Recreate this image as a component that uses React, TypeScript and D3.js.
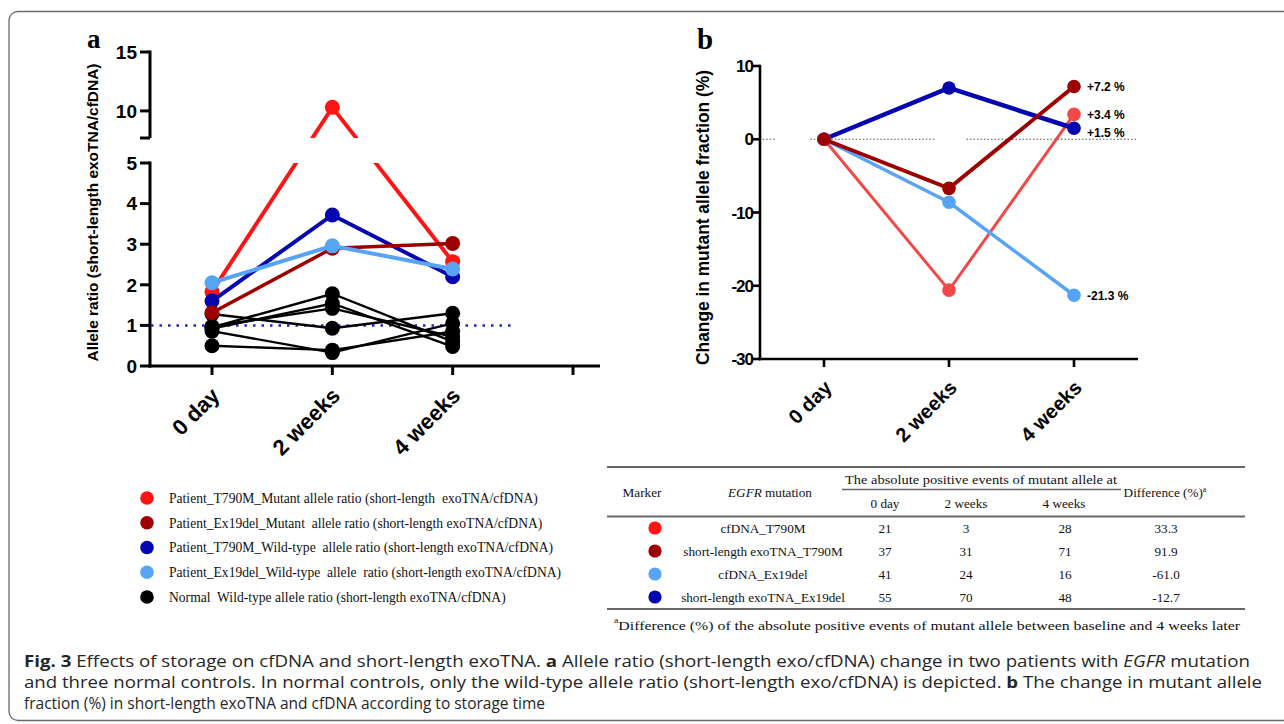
import React from "react";
import * as d3 from "d3";

// ---------- data ----------
const X_CATS = ["0 day", "2 weeks", "4 weeks"];

// Panel a: allele ratio (short-length exoTNA / cfDNA)
const A_LOW_TICKS = [0, 1, 2, 3, 4, 5];
const A_HIGH_TICKS = [10, 15];
const A_T790M_MUT = [1.83, 10.3, 2.57];
const A_EX19_MUT = [1.31, 2.9, 3.02];
const A_T790M_WT = [1.6, 3.72, 2.2];
const A_EX19_WT = [2.05, 2.96, 2.39];
const A_NORMAL_1 = [1.28, 0.93, 1.3];
const A_NORMAL_2 = [0.95, 1.78, 0.6];
const A_NORMAL_3 = [0.92, 1.54, 0.48];
const A_NORMAL_4 = [0.98, 1.42, 0.72];
const A_NORMAL_5 = [0.86, 0.33, 1.05];
const A_NORMAL_6 = [0.5, 0.39, 0.85];

// Panel b: change in mutant allele fraction (%)
const B_TICKS = [10, 0, -10, -20, -30];
const B_CFDNA_T790M = [0, -20.6, 3.4];
const B_EXO_T790M = [0, -6.7, 7.2];
const B_CFDNA_EX19 = [0, -8.6, -21.3];
const B_EXO_EX19 = [0, 7.0, 1.5];
const B_END_LABELS = ["+3.4 %", "+7.2 %", "-21.3 %", "+1.5 %"];

// Legend
const LEGEND_LABELS = [
  "Patient_T790M_Mutant allele ratio (short-length  exoTNA/cfDNA)",
  "Patient_Ex19del_Mutant  allele ratio (short-length exoTNA/cfDNA)",
  "Patient_T790M_Wild-type  allele ratio (short-length exoTNA/cfDNA)",
  "Patient_Ex19del_Wild-type  allele  ratio (short-length exoTNA/cfDNA)",
  "Normal  Wild-type allele ratio (short-length exoTNA/cfDNA)",
];

// Table
const TABLE_LABELS = ["cfDNA_T790M", "short-length exoTNA_T790M", "cfDNA_Ex19del", "short-length exoTNA_Ex19del"];
const TABLE_DAY0 = [21, 37, 41, 55];
const TABLE_WK2 = [3, 31, 24, 70];
const TABLE_WK4 = [28, 71, 16, 48];
const TABLE_DIFF = ["33.3", "91.9", "-61.0", "-12.7"];

// ---------- styles ----------
const RED = "#ff1414";
const DARKRED = "#9c0000";
const BLUE = "#0606b0";
const LIGHTBLUE = "#58a4f4";
const B_RED = "#f24848";
const SANS = "'Liberation Sans', Arial, Helvetica, sans-serif";
const SERIF = "'Liberation Serif', 'Times New Roman', serif";
const CAP = "'Open Sans', 'Noto Sans', sans-serif";

export default function App() {
  const W = 1284, H = 724;

  // ----- panel a scales -----
  const xA = d3.scaleLinear().domain([0, 3]).range([212, 573]);
  const yLow = d3.scaleLinear().domain([0, 5]).range([366, 163]);
  const yHigh = d3.scaleLinear().domain([7.7, 15]).range([138, 52]);
  const yA = (v: number) => (v > 5 ? yHigh(v) : yLow(v));
  const lineA = d3.line<number>().x((_, i) => xA(i)).y((d) => yA(d));

  const seriesA = [
    { v: A_NORMAL_1, c: "#000", w: 2.4 },
    { v: A_NORMAL_2, c: "#000", w: 2.4 },
    { v: A_NORMAL_3, c: "#000", w: 2.4 },
    { v: A_NORMAL_4, c: "#000", w: 2.4 },
    { v: A_NORMAL_5, c: "#000", w: 2.4 },
    { v: A_NORMAL_6, c: "#000", w: 2.4 },
    { v: A_T790M_MUT, c: RED, w: 4 },
    { v: A_T790M_WT, c: BLUE, w: 4 },
    { v: A_EX19_MUT, c: DARKRED, w: 3.5 },
    { v: A_EX19_WT, c: LIGHTBLUE, w: 4 },
  ];

  // ----- panel b scales -----
  const xB = d3.scaleLinear().domain([0, 2]).range([824, 1074]);
  const yB = d3.scaleLinear().domain([-30, 10]).range([359, 66]);
  const lineB = d3.line<number>().x((_, i) => xB(i)).y((d) => yB(d));
  const seriesB = [
    { v: B_CFDNA_T790M, c: B_RED, w: 3, lab: B_END_LABELS[0], dy: 0 },
    { v: B_EXO_EX19, c: BLUE, w: 4.5, lab: B_END_LABELS[3], dy: 4 },
    { v: B_CFDNA_EX19, c: LIGHTBLUE, w: 3.5, lab: B_END_LABELS[2], dy: 0 },
    { v: B_EXO_T790M, c: DARKRED, w: 4, lab: B_END_LABELS[1], dy: 0 },
  ];
  const zeroSegs: [number, number][] = [[-0.49, -0.38], [-0.11, 0.89], [1.14, 2.51]];

  const legendColors = [RED, DARKRED, BLUE, LIGHTBLUE, "#000"];
  const legendY = d3.scaleLinear().domain([0, 4]).range([498, 597]);

  const tableColors = [RED, DARKRED, LIGHTBLUE, BLUE];
  const rowY = d3.scaleLinear().domain([0, 3]).range([528, 597]);

  return (
    <svg width={W} height={H} viewBox={`0 0 ${W} ${H}`} style={{ position: "absolute", left: 0, top: 0, background: "#fff" }}>
      <rect x={0} y={0} width={W} height={H} fill="#fff" />
      <rect x={9} y={11.5} width={W + 20} height={709} rx={9} fill="none" stroke="#6a6a6a" strokeWidth={1.3} />

      <defs>
        <clipPath id="gapA">
          <rect x={0} y={0} width={W} height={138} />
          <rect x={0} y={163} width={W} height={H - 163} />
        </clipPath>
      </defs>

      {/* ================= Panel a ================= */}
      <text x={87} y={48} fontFamily={SERIF} fontWeight="bold" fontSize={27}>a</text>

      {/* y axis */}
      <g stroke="#000" strokeWidth={3} fill="none">
        <line x1={150} x2={150} y1={yHigh(15) - 1.5} y2={yHigh(7.7)} />
        <line x1={150} x2={150} y1={yLow(5) - 1.5} y2={yLow(0) + 1.5} />
        {A_HIGH_TICKS.concat([7.7]).map((t) => (
          <line key={"ht" + t} x1={140} x2={150} y1={yHigh(t)} y2={yHigh(t)} />
        ))}
        {A_LOW_TICKS.map((t) => (
          <line key={"lt" + t} x1={140} x2={150} y1={yLow(t)} y2={yLow(t)} />
        ))}
        <line x1={148.5} x2={600} y1={yLow(0)} y2={yLow(0)} />
        {[0, 1, 2, 3].map((i) => (
          <line key={"xt" + i} x1={xA(i)} x2={xA(i)} y1={yLow(0)} y2={yLow(0) + 9} />
        ))}
      </g>
      <g fontFamily={SANS} fontWeight="bold" fontSize={19} textAnchor="end">
        {A_HIGH_TICKS.map((t) => (
          <text key={"hl" + t} x={137} y={yHigh(t)} dy="0.36em">{t}</text>
        ))}
        {A_LOW_TICKS.map((t) => (
          <text key={"ll" + t} x={137} y={yLow(t)} dy="0.36em">{t}</text>
        ))}
      </g>
      <text
        transform={`translate(98,${(63 + 362) / 2}) rotate(-90)`}
        textAnchor="middle"
        fontFamily={SANS}
        fontWeight="bold"
        fontSize={15}
        textLength={298}
        lengthAdjust="spacingAndGlyphs"
      >
        Allele  ratio (short-length  exoTNA/cfDNA)
      </text>
      <g fontFamily={SANS} fontWeight="bold" fontSize={22} textAnchor="end">
        {X_CATS.map((c, i) => (
          <text key={c} transform={`translate(${xA(i) + 9},${yLow(0) + 31}) rotate(-45)`}>{c}</text>
        ))}
      </g>

      {/* reference line at 1 */}
      <line x1={151} x2={xA(2.5)} y1={yLow(1)} y2={yLow(1)} stroke="#2222cc" strokeWidth={2.5} strokeDasharray="2.5 6" />

      {/* series */}
      {seriesA.map((s, k) => (
        <g key={"sa" + k}>
          <path d={lineA(s.v) || ""} fill="none" stroke={s.c} strokeWidth={s.w} clipPath="url(#gapA)" />
          {s.v.map((d, i) => (
            <circle key={i} cx={xA(i)} cy={yA(d)} r={7.5} fill={s.c} />
          ))}
        </g>
      ))}

      {/* ================= Panel b ================= */}
      <text x={697} y={49} fontFamily={SERIF} fontWeight="bold" fontSize={29}>b</text>
      <g stroke="#000" strokeWidth={2.6} fill="none">
        <line x1={760} x2={760} y1={yB(10) - 1.3} y2={yB(-30) + 1.3} />
        {B_TICKS.map((t) => (
          <line key={"bt" + t} x1={753} x2={760} y1={yB(t)} y2={yB(t)} />
        ))}
        <line x1={758.7} x2={1138} y1={yB(-30)} y2={yB(-30)} />
        {[0, 1, 2].map((i) => (
          <line key={"bxt" + i} x1={xB(i)} x2={xB(i)} y1={yB(-30)} y2={yB(-30) + 8} />
        ))}
      </g>
      <g fontFamily={SANS} fontWeight="bold" fontSize={17} textAnchor="end" letterSpacing={-1}>
        {B_TICKS.map((t) => (
          <text key={"bl" + t} x={753} y={yB(t)} dy="0.36em">{t}</text>
        ))}
      </g>
      <text
        transform={`translate(709,${(70 + 365) / 2}) rotate(-90)`}
        textAnchor="middle"
        fontFamily={SANS}
        fontWeight="bold"
        fontSize={17.5}
        textLength={295}
        lengthAdjust="spacingAndGlyphs"
      >
        Change in mutant allele fraction (%)
      </text>
      <g fontFamily={SANS} fontWeight="bold" fontSize={20} textAnchor="end">
        {X_CATS.map((c, i) => (
          <text key={"bx" + c} transform={`translate(${xB(i) + 9},${yB(-30) + 30}) rotate(-45)`}>{c}</text>
        ))}
      </g>
      {zeroSegs.map((s, k) => (
        <line key={"z" + k} x1={xB(s[0])} x2={xB(s[1])} y1={yB(0)} y2={yB(0)} stroke="#555" strokeWidth={1.2} strokeDasharray="1.5 2" />
      ))}
      {seriesB.map((s, k) => (
        <g key={"sb" + k}>
          <path d={lineB(s.v) || ""} fill="none" stroke={s.c} strokeWidth={s.w} />
          {s.v.map((d, i) => (
            <circle key={i} cx={xB(i)} cy={yB(d)} r={6.8} fill={s.c} />
          ))}
        </g>
      ))}
      <g fontFamily={SANS} fontWeight="bold" fontSize={12}>
        {seriesB.map((s, k) => (
          <text key={"lab" + k} x={xB(2) + 13} y={yB(s.v[2]) + s.dy} dy="0.36em">{s.lab}</text>
        ))}
      </g>

      {/* ================= Legend ================= */}
      {LEGEND_LABELS.map((l, i) => (
        <g key={"lg" + i}>
          <circle cx={147} cy={legendY(i)} r={6.8} fill={legendColors[i]} />
          <text x={169} y={legendY(i)} dy="0.35em" fontFamily={SERIF} fontSize={13.6} fill="#111" style={{ whiteSpace: "pre" }}>
            {l}
          </text>
        </g>
      ))}

      {/* ================= Table ================= */}
      <g fontFamily={SERIF} fontSize={13.2} fill="#111">
        <line x1={607} x2={1245} y1={467} y2={467} stroke="#666" strokeWidth={2} />
        <line x1={842} x2={1121} y1={489.5} y2={489.5} stroke="#666" strokeWidth={1.5} />
        <line x1={607} x2={1245} y1={516.5} y2={516.5} stroke="#666" strokeWidth={2} />
        <line x1={607} x2={1245} y1={609} y2={609} stroke="#666" strokeWidth={2} />
        <text x={642} y={492} dy="0.35em" textAnchor="middle">Marker</text>
        <text x={770} y={492} dy="0.35em" textAnchor="middle">
          <tspan fontStyle="italic">EGFR</tspan> mutation
        </text>
        <text x={981} y={479} dy="0.35em" textAnchor="middle" textLength={272} lengthAdjust="spacingAndGlyphs">The absolute positive events of mutant allele at</text>
        <text x={885} y={503} dy="0.35em" textAnchor="middle">0 day</text>
        <text x={966} y={503} dy="0.35em" textAnchor="middle">2 weeks</text>
        <text x={1064} y={503} dy="0.35em" textAnchor="middle">4 weeks</text>
        <text x={1165} y={492} dy="0.35em" textAnchor="middle">
          Difference  (%)<tspan fontSize={8} dy="-0.6em">a</tspan>
        </text>
        {TABLE_LABELS.map((l, i) => (
          <g key={"tr" + i}>
            <circle cx={655} cy={rowY(i)} r={6.6} fill={tableColors[i]} />
            <text x={763} y={rowY(i)} dy="0.35em" textAnchor="middle">{l}</text>
            <text x={885} y={rowY(i)} dy="0.35em" textAnchor="middle">{TABLE_DAY0[i]}</text>
            <text x={966} y={rowY(i)} dy="0.35em" textAnchor="middle">{TABLE_WK2[i]}</text>
            <text x={1065} y={rowY(i)} dy="0.35em" textAnchor="middle">{TABLE_WK4[i]}</text>
            <text x={1166} y={rowY(i)} dy="0.35em" textAnchor="middle">{TABLE_DIFF[i]}</text>
          </g>
        ))}
        <text x={614} y={627} dy="0.35em" textLength={626} lengthAdjust="spacingAndGlyphs">
          <tspan fontSize={8} dy="-0.5em">a</tspan>
          <tspan dy="0.5em">Difference (%) of the absolute positive  events of mutant allele  between baseline  and 4 weeks later</tspan>
        </text>
      </g>

      {/* ================= Caption ================= */}
      <g fontFamily={CAP} fontSize={16.5} fill="#262626">
        <text x={24} y={667} textLength={1226} lengthAdjust="spacingAndGlyphs">
          <tspan fontWeight="bold">Fig. 3</tspan>  Effects of storage on cfDNA and short-length exoTNA. <tspan fontWeight="bold">a</tspan> Allele ratio (short-length exo/cfDNA) change in two patients with <tspan fontStyle="italic">EGFR</tspan> mutation
        </text>
        <text x={24} y={688} textLength={1238} lengthAdjust="spacingAndGlyphs">
          and three normal controls. In normal controls, only the wild-type allele ratio (short-length exo/cfDNA) is depicted. <tspan fontWeight="bold">b</tspan> The change in mutant allele
        </text>
        <text x={24} y={709} textLength={521} lengthAdjust="spacingAndGlyphs">
          fraction (%) in short-length exoTNA and cfDNA according to storage time
        </text>
      </g>
    </svg>
  );
}
